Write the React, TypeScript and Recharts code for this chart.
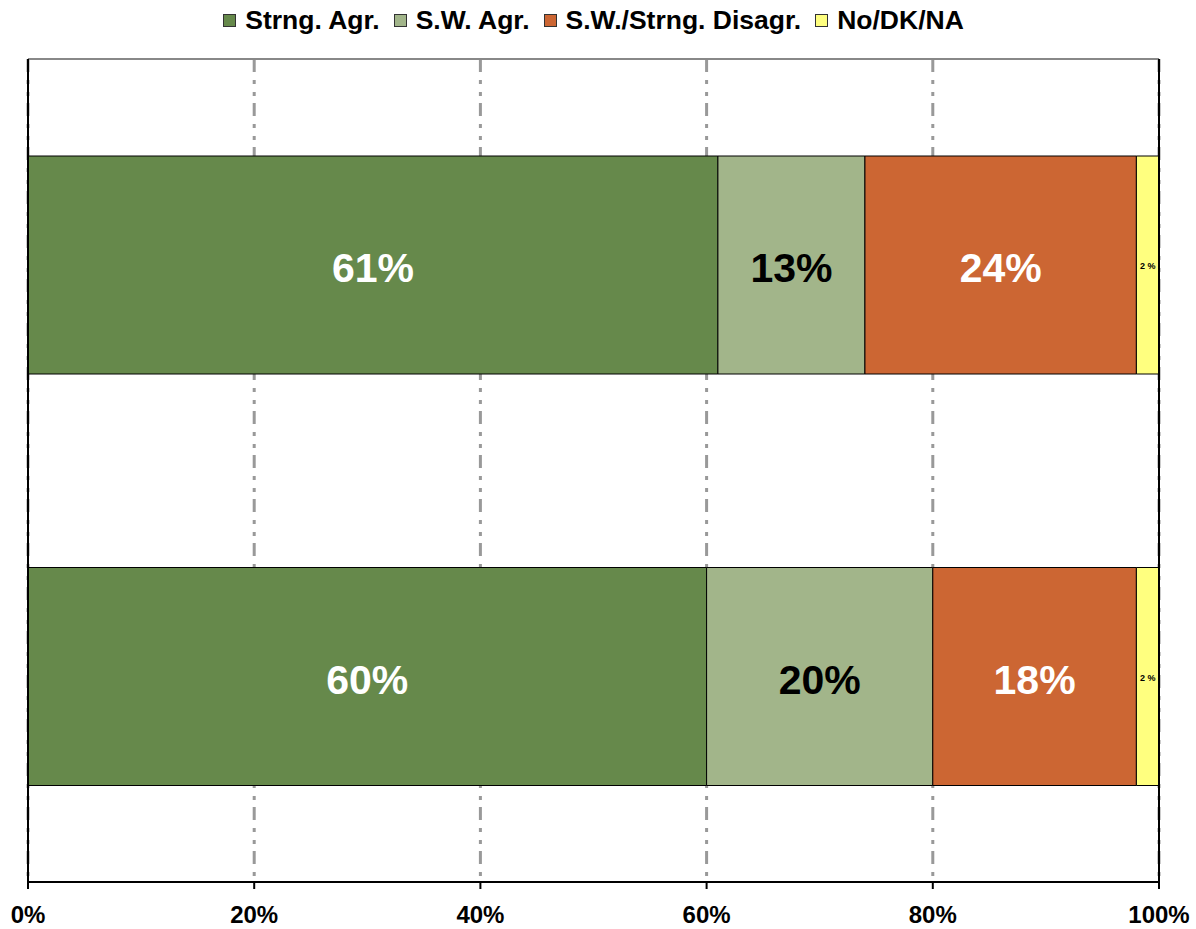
import React from 'react';
import { BarChart, Bar, XAxis, YAxis, CartesianGrid, Legend, LabelList } from 'recharts';

const categories = ['Row A', 'Row B'];
const strongAgree = [61, 60];
const swAgree = [13, 20];
const disagree = [24, 18];
const noAnswer = [2, 2];
const xTicks = [0, 20, 40, 60, 80, 100];

const seriesNames = ['Strng. Agr.', 'S.W. Agr.', 'S.W./Strng. Disagr.', 'No/DK/NA'];
const seriesKeys = ['sa', 'swa', 'dis', 'na'];
const seriesColors = ['#66894B', '#A2B58A', '#CC6633', '#FFFF7F'];
const labelColors = ['#FFFFFF', '#000000', '#FFFFFF', '#000000'];
const labelSizes = [41, 41, 41, 9];

const data = categories.map((name, i) => ({
  name,
  sa: strongAgree[i],
  swa: swAgree[i],
  dis: disagree[i],
  na: noAnswer[i],
}));

const FONT = '"Liberation Sans", Arial, sans-serif';

const makeLabel = (idx: number) => (props: any) => {
  const { x, y, width, height, value } = props;
  const txt = idx === 3 ? `${value} %` : `${value}%`;
  return (
    <text
      x={x + width / 2}
      y={y + height / 2 + (idx === 3 ? 1 : 3)}
      textAnchor="middle"
      dominantBaseline="central"
      fill={labelColors[idx]}
      fontFamily={FONT}
      fontWeight="bold"
      fontSize={labelSizes[idx]}
    >
      {txt}
    </text>
  );
};

const LegendContent = () => (
  <div
    style={{
      display: 'flex',
      justifyContent: 'center',
      alignItems: 'center',
      fontFamily: FONT,
      fontWeight: 'bold',
      fontSize: 26.5,
      color: '#000',
      paddingLeft: 28,
      paddingRight: 37,
    }}
  >
    {seriesNames.map((n, i) => (
      <div key={n} style={{ display: 'flex', alignItems: 'center', marginRight: i < 3 ? 14 : 0 }}>
        <span
          style={{
            display: 'inline-block',
            width: 11,
            height: 11,
            background: seriesColors[i],
            border: '1px solid #333',
            marginRight: 9,
          }}
        />
        <span>{n}</span>
      </div>
    ))}
  </div>
);

const XTick = (props: any) => {
  const { x, y, payload } = props;
  return (
    <text
      x={x}
      y={y + 32}
      textAnchor="middle"
      fontFamily={FONT}
      fontWeight="bold"
      fontSize={24}
      fill="#000"
    >
      {`${payload.value}%`}
    </text>
  );
};

export default function App() {
  return (
    <div style={{ position: 'absolute', left: 0, top: 0, background: '#fff' }}>
      <BarChart
        width={1196}
        height={929}
        data={data}
        layout="vertical"
        margin={{ top: 58, right: 36, bottom: 7, left: 27 }}
        barSize={218}
      >
        <CartesianGrid
          horizontal={false}
          vertical={true}
          stroke="#999"
          strokeWidth={3}
          strokeDasharray="13 8 4 8 4 7"
        />
        <XAxis
          xAxisId="top"
          orientation="top"
          type="number"
          domain={[0, 100]}
          height={1}
          tick={false}
          tickLine={false}
          axisLine={{ stroke: '#888', strokeWidth: 2 }}
        />
        <XAxis
          type="number"
          domain={[0, 100]}
          ticks={xTicks}
          height={40}
          tickSize={7}
          tickMargin={2}
          tick={<XTick />}
          tickLine={{ stroke: '#000', strokeWidth: 2 }}
          axisLine={{ stroke: '#000', strokeWidth: 2 }}
          interval={0}
        />
        <YAxis
          type="category"
          dataKey="name"
          width={1}
          tick={false}
          tickLine={false}
          axisLine={{ stroke: '#000', strokeWidth: 2 }}
        />
        <YAxis
          yAxisId="right"
          orientation="right"
          type="category"
          dataKey="name"
          width={1}
          tick={false}
          tickLine={false}
          axisLine={{ stroke: '#000', strokeWidth: 2 }}
        />
        <Legend
          layout="horizontal"
          verticalAlign="middle"
          align="center"
          wrapperStyle={{ top: 5, left: 0, width: 1196 }}
          content={<LegendContent />}
        />
        {seriesKeys.map((k, i) => (
          <Bar
            key={k}
            dataKey={k}
            name={seriesNames[i]}
            stackId="s"
            fill={seriesColors[i]}
            stroke="#000"
            strokeWidth={1}
            isAnimationActive={false}
          >
            <LabelList dataKey={k} content={makeLabel(i)} />
          </Bar>
        ))}
      </BarChart>
    </div>
  );
}
